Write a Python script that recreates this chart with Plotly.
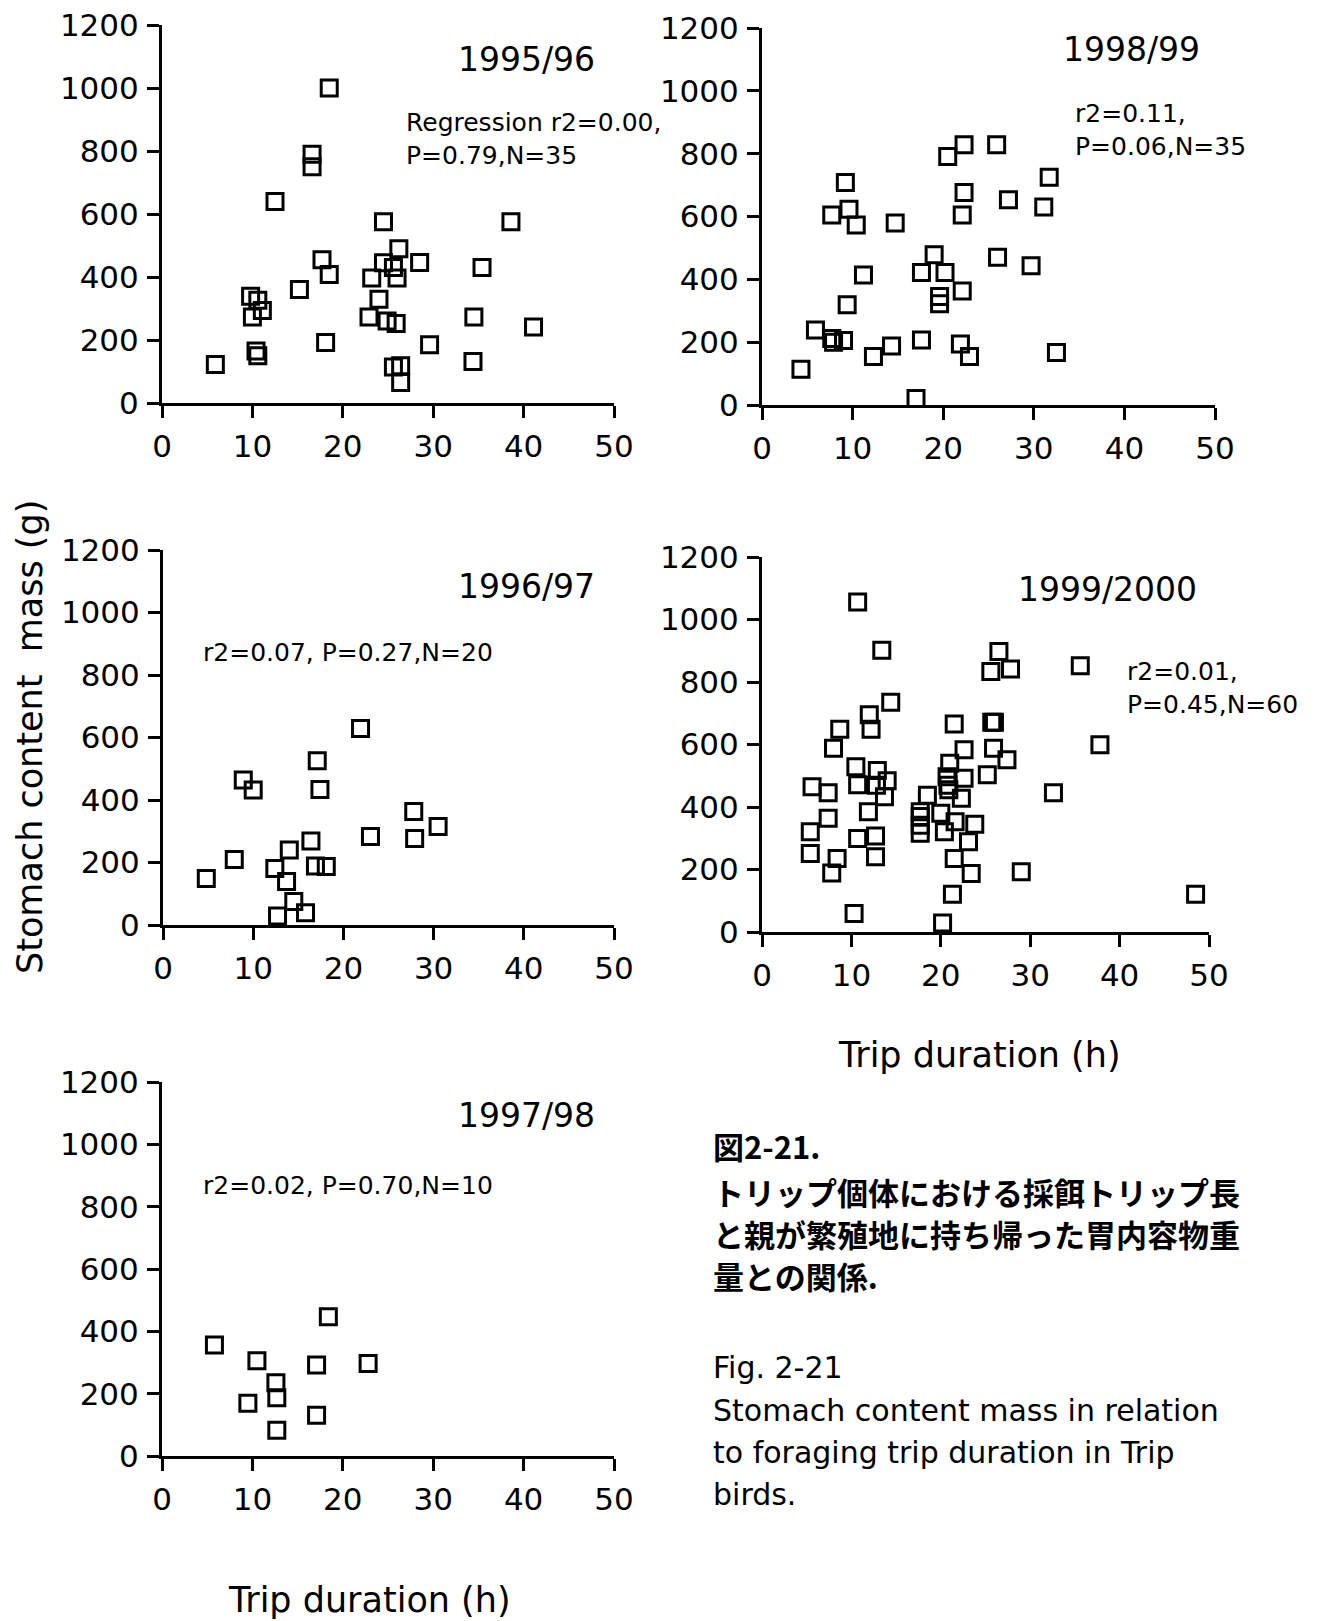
import plotly.graph_objects as go

# Trip duration (h) and stomach content mass (g), one pair of lists per season
x_9596 = [18.5, 16.6, 16.6, 12.5, 24.5, 38.6, 26.2, 17.7, 24.5, 25.6, 28.5, 35.4,
          18.5, 23.2, 26.0, 15.2, 9.8, 10.6, 11.1, 10.0, 24.0, 22.9, 24.9, 25.9,
          34.5, 41.1, 18.1, 29.6, 10.4, 10.6, 5.9, 34.4, 25.6, 26.4, 26.4]
y_9596 = [1000, 790, 750, 640, 575, 575, 490, 455, 445, 430, 446, 430,
          408, 397, 397, 360, 339, 326, 294, 273, 329, 273, 260, 252,
          273, 241, 192, 185, 165, 150, 122, 132, 114, 118, 65]

x_9899 = [4.3, 5.9, 7.7, 7.9, 9.0, 9.4, 7.7, 9.2, 9.6, 10.4, 11.2, 12.3, 14.3, 14.7,
          17.0, 17.6, 17.6, 19.0, 19.6, 19.6, 20.2, 20.5, 22.3, 22.3, 22.1, 22.1,
          21.9, 22.9, 25.9, 26.0, 27.2, 29.7, 31.1, 31.7, 32.5]
y_9899 = [114, 239, 212, 200, 205, 319, 605, 708, 623, 573, 414, 154, 188, 579,
          21, 207, 422, 478, 345, 322, 422, 791, 828, 676, 605, 363,
          194, 154, 828, 470, 653, 443, 630, 725, 167]

x_9697 = [4.8, 7.9, 8.9, 10.0, 12.4, 12.7, 13.7, 14.0, 14.5, 15.8,
          16.4, 17.1, 17.4, 16.9, 18.1, 21.9, 23.0, 27.8, 27.9, 30.5]
y_9697 = [149, 210, 464, 432, 181, 29, 139, 240, 75, 39,
          269, 526, 434, 189, 187, 629, 283, 363, 277, 315]

x_9900 = [10.7, 13.4, 35.6, 26.5, 25.6, 27.8, 14.4, 12.0, 12.2, 8.7, 8.0, 21.5,
          25.7, 26.0, 22.6, 25.9, 27.4, 25.2, 37.8, 32.6, 10.5, 12.9, 10.7, 14.0,
          13.7, 11.9, 12.7, 10.7, 12.7, 5.6, 7.4, 7.4, 5.4, 5.4, 8.4, 7.8,
          10.3, 21.0, 20.7, 20.8, 22.6, 22.3, 18.5, 17.7, 17.7, 17.7, 20.0, 20.4,
          21.6, 23.8, 23.1, 21.5, 23.4, 21.3, 20.2, 29.0, 48.5, 17.7, 12.8, 20.9]
y_9900 = [1056, 902, 852, 898, 834, 842, 735, 695, 649, 649, 588, 666,
          671, 671, 583, 588, 551, 503, 599, 446, 529, 517, 471, 484,
          433, 385, 307, 299, 241, 465, 446, 364, 321, 251, 235, 189,
          59, 540, 497, 470, 492, 428, 438, 385, 342, 316, 380, 321,
          353, 345, 289, 235, 187, 121, 29, 193, 121, 370, 470, 455]

x_9798 = [5.8, 10.5, 9.5, 12.6, 12.7, 12.7, 17.1, 17.1, 18.4, 22.8]
y_9798 = [356, 306, 169, 235, 187, 83, 292, 131, 447, 297]

seasons = ["1995/96", "1998/99", "1996/97", "1999/2000", "1997/98"]
stats = ["Regression r2=0.00,<br>P=0.79,N=35",
         "r2=0.11,<br>P=0.06,N=35",
         "r2=0.07, P=0.27,N=20",
         "r2=0.01,<br>P=0.45,N=60",
         "r2=0.02, P=0.70,N=10"]
x_ticks = [0, 10, 20, 30, 40, 50]
y_ticks = [0, 200, 400, 600, 800, 1000, 1200]

W, H = 1321, 1621
FONT = "DejaVu Sans"


def px_x(p):
    return p / W


def px_y(p):
    return 1 - p / H


# plot boxes in page pixels: (left, right, top, bottom)
boxes = [(162, 614, 25, 403),
         (762, 1215, 28, 405),
         (163, 614, 550, 925),
         (762, 1209, 557, 932),
         (162, 614, 1082, 1456)]

data = [(x_9596, y_9596), (x_9899, y_9899), (x_9697, y_9697),
        (x_9900, y_9900), (x_9798, y_9798)]

fig = go.Figure()
layout = {}
for i, ((xs, ys), (l, r, t, b)) in enumerate(zip(data, boxes), start=1):
    sfx = "" if i == 1 else str(i)
    fig.add_trace(go.Scatter(
        x=xs, y=ys, mode="markers",
        xaxis="x" + sfx, yaxis="y" + sfx,
        marker=dict(symbol="square-open", size=16, color="black",
                    line=dict(width=3, color="black")),
        cliponaxis=False, showlegend=False, hoverinfo="x+y"))
    axis_common = dict(showline=True, linecolor="black", linewidth=3,
                       ticks="outside", ticklen=12, tickwidth=2.5,
                       tickcolor="black", showgrid=False, zeroline=False,
                       automargin=False,
                       tickfont=dict(family=FONT, size=31, color="black"))
    layout["xaxis" + sfx] = dict(axis_common, domain=[px_x(l), px_x(r)],
                                 range=[0, 50], tickvals=x_ticks,
                                 anchor="y" + sfx, ticklabelstandoff=2)
    layout["yaxis" + sfx] = dict(axis_common, domain=[px_y(b), px_y(t)],
                                 range=[0, 1200], tickvals=y_ticks,
                                 anchor="x" + sfx, ticklabelstandoff=2)

fig.update_layout(**layout)

ann = []
# season labels
title_pos = [(597, 60), (1202, 50), (597, 586), (1199, 589), (597, 1115)]
for s, (px, py) in zip(seasons, title_pos):
    ann.append(dict(text=s, x=px_x(px), y=px_y(py), xanchor="right",
                    yanchor="middle", font=dict(size=33)))
# regression statistics
stat_pos = [(404, 139), (1073, 130), (201, 652), (1125, 688), (201, 1185)]
for s, (px, py) in zip(stats, stat_pos):
    ann.append(dict(text=s, x=px_x(px), y=px_y(py), xanchor="left",
                    yanchor="middle", align="left", font=dict(size=25)))

# axis titles
ann.append(dict(text="Stomach content  mass (g)", x=px_x(30), y=px_y(737),
                textangle=-90, xanchor="center", yanchor="middle",
                font=dict(size=35)))
ann.append(dict(text="Trip duration (h)", x=px_x(979), y=px_y(1055),
                xanchor="center", yanchor="middle", font=dict(size=35)))
ann.append(dict(text="Trip duration (h)", x=px_x(369), y=px_y(1600),
                xanchor="center", yanchor="middle", font=dict(size=35)))

# figure caption
jp_lines = ["図2-21.", "トリップ個体における採餌トリップ長",
            "と親が繁殖地に持ち帰った胃内容物重", "量との関係."]
for line, py in zip(jp_lines, [1145, 1191, 1233, 1275]):
    ann.append(dict(text="<b>" + line + "</b>", x=px_x(711), y=px_y(py),
                    xanchor="left", yanchor="middle",
                    font=dict(size=31, family="Noto Sans CJK JP")))
en_lines = ["Fig. 2-21", "Stomach content mass in relation",
            "to foraging trip duration in Trip", "birds."]
for line, py in zip(en_lines, [1367, 1410, 1452, 1494]):
    ann.append(dict(text=line, x=px_x(711), y=px_y(py), xanchor="left",
                    yanchor="middle", font=dict(size=30)))

for a in ann:
    a.update(xref="paper", yref="paper", showarrow=False)
    a.setdefault("font", {})
    a["font"].setdefault("family", FONT)
    a["font"]["color"] = "black"

fig.update_layout(
    width=W, height=H, autosize=False,
    margin=dict(l=0, r=0, t=0, b=0, pad=0, autoexpand=False),
    paper_bgcolor="white", plot_bgcolor="white",
    font=dict(family=FONT, color="black"),
    annotations=ann)

fig.write_html("out.html")
